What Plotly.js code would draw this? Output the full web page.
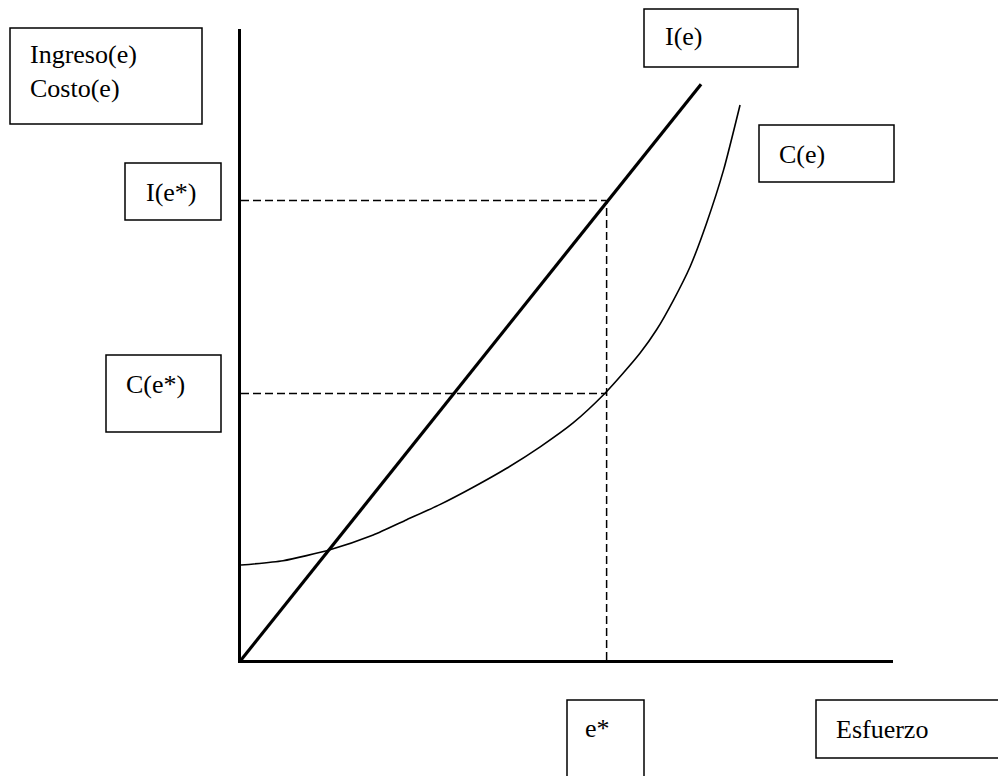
<!DOCTYPE html>
<html>
<head>
<meta charset="utf-8">
<script src="https://cdn.plot.ly/plotly-3.0.1.min.js"></script>
<style>
  html, body { margin: 0; padding: 0; background: #fff; }
  #plot { width: 998px; height: 776px; }
</style>
</head>
<body>
<div id="plot"></div>
<script>
// Ingreso I(e): straight line from the origin
const ingresoE = [0, 7.55];
const ingresoY = [0, 9.4];

// Costo C(e): convex curve
const costoE = [0, 0.69, 1.46, 2.17, 2.72, 3.27, 3.81, 4.36, 4.91, 5.45, 5.97, 6.27, 6.55, 6.82, 7.1, 7.37, 7.64, 7.92, 8.19];
const costoY = [1.55, 1.62, 1.8, 2.04, 2.29, 2.54, 2.82, 3.13, 3.48, 3.87, 4.35, 4.68, 5.01, 5.39, 5.88, 6.42, 7.13, 8.0, 9.06];

// optimum effort and the values read at it
const eStar = 6.0;
const iStar = 7.5;
const cStar = 4.35;

const W = 998, H = 776;
const margin = { l: 241, r: 105, t: 29, b: 116 };
const plotW = W - margin.l - margin.r;
const plotH = H - margin.t - margin.b;

// pixel position -> paper coords, for the label boxes
function px(x) { return (x - margin.l) / plotW; }
function py(y) { return (H - margin.b - y) / plotH; }

function box(x0, y0, x1, y1) {
    return {
        type: 'rect', xref: 'paper', yref: 'paper',
        x0: px(x0), x1: px(x1), y0: py(y0), y1: py(y1),
        line: { color: '#000', width: 1.5 }, fillcolor: 'rgba(0,0,0,0)'
    };
}

function label(text, x, y) {
    return {
        text: text, xref: 'paper', yref: 'paper',
        x: px(x), y: py(y), xanchor: 'left', yanchor: 'middle',
        align: 'left', showarrow: false, borderpad: 0,
        font: { family: 'Liberation Serif', size: 26, color: '#000' }
    };
}

const dash = { color: '#000', width: 1.5, dash: '8px,4px' };

const traces = [
    { x: [0, eStar], y: [iStar, iStar], mode: 'lines', line: dash },
    { x: [0, eStar], y: [cStar, cStar], mode: 'lines', line: dash },
    { x: [eStar, eStar], y: [0, iStar], mode: 'lines', line: dash },
    { x: costoE, y: costoY, mode: 'lines', line: { color: '#000', width: 1.6, shape: 'spline', smoothing: 0.6 } },
    { x: ingresoE, y: ingresoY, mode: 'lines', line: { color: '#000', width: 3.2 } }
];

const axisStyle = {
    showline: true, linecolor: '#000', linewidth: 3,
    showgrid: false, zeroline: false, showticklabels: false, ticks: '',
    fixedrange: true
};

const layout = {
    width: W, height: H,
    margin: margin,
    paper_bgcolor: '#fff', plot_bgcolor: '#fff',
    showlegend: false,
    xaxis: Object.assign({ range: [0, 10.7] }, axisStyle),
    yaxis: Object.assign({ range: [0, 10.3] }, axisStyle),
    shapes: [
        box(10, 28, 202, 124),
        box(125, 163, 221, 220),
        box(106, 355, 221, 432),
        box(644, 9, 798, 67),
        box(759, 125, 894, 182),
        box(567, 700, 644, 790),
        box(816, 700, 1005, 758)
    ],
    annotations: [
        label('Ingreso(e)<br>Costo(e)', 29, 71),
        label('I(e*)', 145, 192),
        label('C(e*)', 125, 384),
        label('I(e)', 664, 37),
        label('C(e)', 778, 154),
        label('e*', 584, 728),
        label('Esfuerzo', 835, 729)
    ]
};

Plotly.newPlot('plot', traces, layout, { displayModeBar: false, staticPlot: true });
</script>
</body>
</html>
